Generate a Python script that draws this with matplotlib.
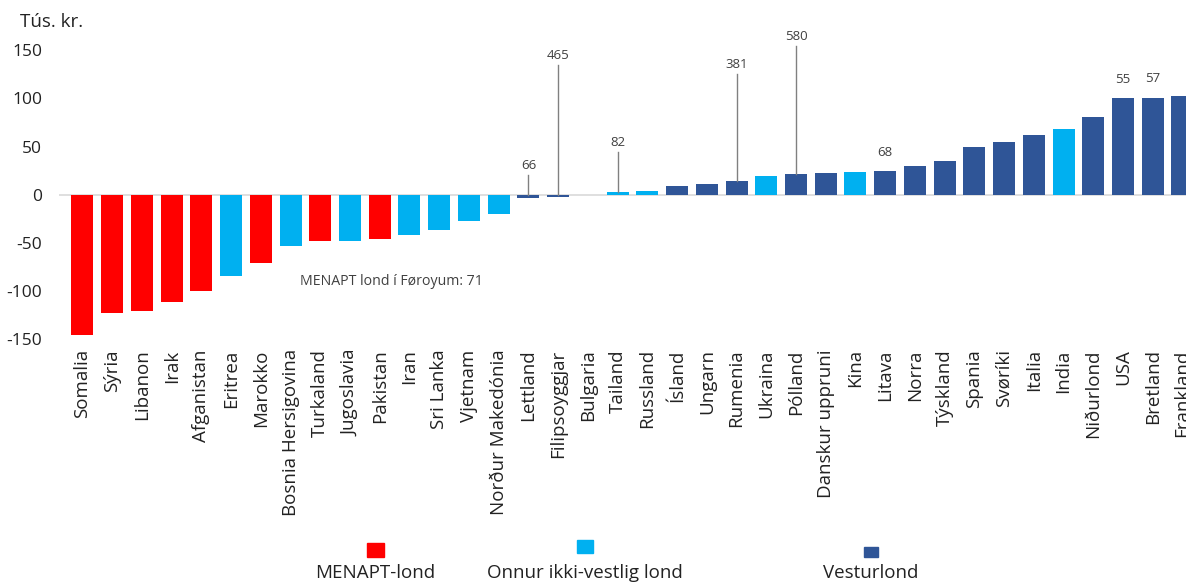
import matplotlib.pyplot as plt
from matplotlib.patches import Rectangle

plt.rcParams['font.family'] = ['Open Sans', 'DejaVu Sans']

countries = ["Somalia", "Sýria", "Libanon", "Irak", "Afganistan", "Eritrea", "Marokko",
             "Bosnia Hersigovina", "Turkaland", "Jugoslavia", "Pakistan", "Iran", "Sri Lanka",
             "Vjetnam", "Norður Makedónia", "Lettland", "Filipsoyggjar", "Bulgaria", "Tailand",
             "Russland", "Ísland", "Ungarn", "Rumenia", "Ukraina", "Pólland", "Danskur uppruni",
             "Kina", "Litava", "Norra", "Týskland", "Spania", "Svøríki", "Italia", "India",
             "Niðurlond", "USA", "Bretland", "Frankland"]
values = [-146, -123, -121, -112, -100, -85, -71, -53, -48, -48, -46, -42, -37, -27, -20,
          -3, -2, 0, 3, 4, 9, 11, 14, 19, 21, 23, 23.5, 24.5, 30, 35, 49, 55, 62, 68,
          81, 100, 100.5, 102]
groups = ["M", "M", "M", "M", "M", "O", "M", "O", "M", "O", "M", "O", "O", "O", "O",
          "V", "V", "V", "O", "O", "V", "V", "V", "O", "V", "V", "O", "V", "V", "V", "V", "V",
          "V", "O", "V", "V", "V", "V"]
# number of people for some small groups
counts = {"Lettland": 66, "Filipsoyggjar": 465, "Tailand": 82, "Rumenia": 381,
          "Pólland": 580, "Litava": 68, "USA": 55, "Bretland": 57}

# where the count labels sit (height of label), and whether a leader line is drawn
label_y = {"Lettland": 30, "Filipsoyggjar": 145, "Tailand": 54, "Rumenia": 135,
           "Pólland": 164, "Litava": 44, "USA": 120, "Bretland": 121}
leader = {"Lettland", "Filipsoyggjar", "Tailand", "Rumenia", "Pólland"}

colors = {"M": "#FF0000", "O": "#00B0F0", "V": "#2F5597"}
names = {"M": "MENAPT-lond", "O": "Onnur ikki-vestlig lond", "V": "Vesturlond"}

fig = plt.figure(figsize=(11.86, 5.83), dpi=100)
ax = fig.add_axes([59 / 1186, 1 - 341 / 583, 1 - 59 / 1186, (341 - 31) / 583])

x = list(range(len(countries)))
ax.bar(x, values, width=0.74, color=[colors[g] for g in groups], zorder=2)
ax.axhline(0, color="#d9d9d9", lw=1.2, zorder=1)

for name, n in counts.items():
    i = countries.index(name)
    top = max(values[i], 0)
    if name in leader:
        ax.plot([i, i], [top, label_y[name] - 10], color="#808080", lw=1, zorder=3)
    ax.text(i, label_y[name], str(n), ha="center", va="center", fontsize=9.5, color="#404040")

ax.text(10.4, -90, "MENAPT lond í Føroyum: 71", ha="center", va="center",
        fontsize=10.2, color="#404040")

ax.set_xlim(-0.79, 37.12)
ax.set_ylim(-152, 170)
ax.set_yticks([-150, -100, -50, 0, 50, 100, 150])
ax.set_yticklabels(["-150", "-100", "-50", "0", "50", "100", "150"])
ax.set_xticks(x)
ax.set_xticklabels(countries, rotation=90)
ax.tick_params(axis="y", length=0, pad=12, labelsize=12.5, labelcolor="#222222")
ax.tick_params(axis="x", length=0, pad=6, labelsize=13.5, labelcolor="#222222")
for s in ax.spines.values():
    s.set_visible(False)

fig.text(20 / 1186, 1 - 22 / 583, "Tús. kr.", fontsize=13.5, va="center", ha="left",
         color="#222222")

# legend: square above the text
leg_x = {"M": 375, "O": 585, "V": 871}
leg_box = {"M": (17, 14, 550), "O": (16, 13, 546), "V": (14, 10, 552)}
for g in ["M", "O", "V"]:
    cx = leg_x[g]
    w, h, cy = leg_box[g]
    fig.add_artist(Rectangle(((cx - w / 2) / 1186, 1 - (cy + h / 2) / 583), w / 1186, h / 583,
                             transform=fig.transFigure, color=colors[g]))
    fig.text(cx / 1186, 1 - 573 / 583, names[g], ha="center", va="center", fontsize=13.5,
             color="#222222")

fig.savefig("out.png", dpi=100)
